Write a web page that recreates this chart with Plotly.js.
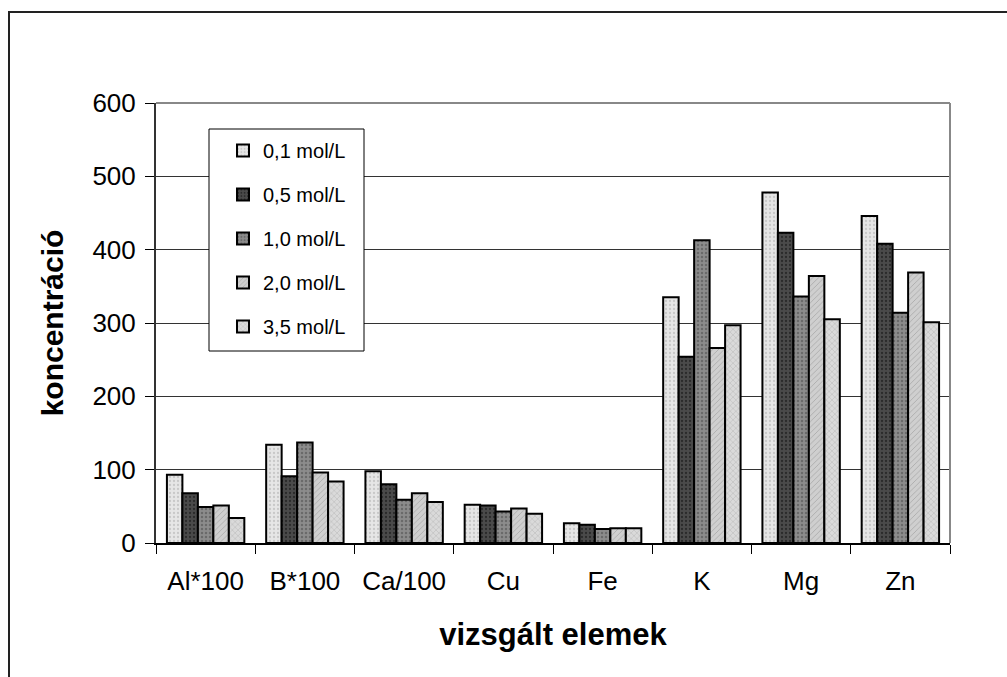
<!DOCTYPE html>
<html>
<head>
<meta charset="utf-8">
<script src="https://cdn.plot.ly/plotly-3.0.1.min.js"></script>
<style>
html,body{margin:0;padding:0;background:#fff;}
#chart{width:1007px;height:677px;}
</style>
</head>
<body>
<div id="chart"></div>
<script>
// Data
const categories = ["Al*100", "B*100", "Ca/100", "Cu", "Fe", "K", "Mg", "Zn"];
const seriesNames = ["0,1 mol/L", "0,5 mol/L", "1,0 mol/L", "2,0 mol/L", "3,5 mol/L"];
const s01 = [93, 134, 98, 52, 27, 335, 478, 446];
const s05 = [68, 91, 80, 51, 25, 254, 423, 408];
const s10 = [49, 137, 59, 43, 19, 413, 336, 314];
const s20 = [51, 96, 68, 47, 20, 266, 364, 369];
const s35 = [34, 84, 56, 40, 20, 297, 305, 301];
const yTicks = [0, 100, 200, 300, 400, 500, 600];

const seriesValues = [s01, s05, s10, s20, s35];
const fills = [
  {bg: "#e6e6e6", fg: "#c8c8c8", shape: ".", size: 4, sol: 0.25},
  {bg: "#4a4a4a", fg: "#2a2a2a", shape: ".", size: 4, sol: 0.25},
  {bg: "#8c8c8c", fg: "#6a6a6a", shape: ".", size: 4, sol: 0.3},
  {bg: "#cfcfcf", fg: "#a8a8a8", shape: "/", size: 4, sol: 0.2},
  {bg: "#dadada", fg: "#a0a0a0", shape: "x", size: 4, sol: 0.15}
];

const FONT = "Liberation Sans, Arial, Helvetica, sans-serif";

const traces = seriesNames.map((name, i) => ({
  type: "bar",
  name: name,
  x: categories,
  y: seriesValues[i],
  legendgroup: "g" + i,
  marker: {
    color: fills[i].bg,
    line: {color: "#000", width: 2},
    pattern: {shape: fills[i].shape, fgcolor: fills[i].fg, bgcolor: fills[i].bg, size: fills[i].size, solidity: fills[i].sol}
  },
  hoverinfo: "skip"
}));

const L = 156, R = 950, T = 103, B = 543, W = 1007, H = 677;
const pw = R - L, ph = B - T;
function px(x){ return (x - L) / pw; }
function py(y){ return (B - y) / ph; }

const layout = {
  width: W, height: H,
  margin: {l: L, r: W - R, t: T, b: H - B, pad: 0},
  paper_bgcolor: "#fff",
  plot_bgcolor: "#fff",
  font: {family: FONT, color: "#000", size: 26},
  barmode: "group",
  bargap: 0.22,
  bargroupgap: 0,
  showlegend: true,
  legend: {
    x: px(223), y: py(131), xanchor: "left", yanchor: "top",
    bgcolor: "rgba(0,0,0,0)", borderwidth: 0,
    font: {family: FONT, size: 20, color: "#000"},
    traceorder: "grouped",
    tracegroupgap: 15,
    itemclick: false, itemdoubleclick: false
  },
  xaxis: {
    type: "category",
    showline: true, linecolor: "#000", linewidth: 2,
    ticks: "outside", tickson: "boundaries", ticklen: 9, tickcolor: "#000", tickwidth: 1,
    tickfont: {family: FONT, size: 26, color: "#000"},
    ticklabelstandoff: 14,
    showgrid: false,
    title: {text: "vizsgált elemek", font: {family: FONT, size: 31, color: "#000", weight: "bold"}, standoff: 28},
    fixedrange: true
  },
  yaxis: {
    range: [0, 600],
    tickvals: yTicks,
    ticktext: yTicks.map(String),
    showline: true, linecolor: "#333", linewidth: 2,
    ticks: "outside", ticklen: 9, tickcolor: "#000", tickwidth: 1,
    tickfont: {family: FONT, size: 26, color: "#000"},
    ticklabelstandoff: 4,
    showgrid: true, gridcolor: "#333", gridwidth: 1,
    zeroline: false,
    title: {text: "koncentráció", font: {family: FONT, size: 30, color: "#000", weight: "bold"}, standoff: 20},
    fixedrange: true
  },
  shapes: [
    {type: "line", xref: "paper", yref: "paper", x0: 0, x1: 1, y0: 1, y1: 1, line: {color: "#888", width: 2}},
    {type: "line", xref: "paper", yref: "paper", x0: 1, x1: 1, y0: 0, y1: 1, line: {color: "#888", width: 2}},
    {type: "rect", xref: "paper", yref: "paper", x0: px(9), x1: px(1020), y0: py(12), y1: py(700), line: {color: "#222", width: 2}, layer: "below"},
    // legend frame
    {type: "rect", xref: "paper", yref: "paper", x0: px(209), x1: px(364), y0: py(129), y1: py(351), fillcolor: "#fff", line: {color: "#000", width: 1}, layer: "above"}
  ]
};

Plotly.newPlot("chart", traces, layout, {displayModeBar: false, staticPlot: true});
</script>
</body>
</html>
